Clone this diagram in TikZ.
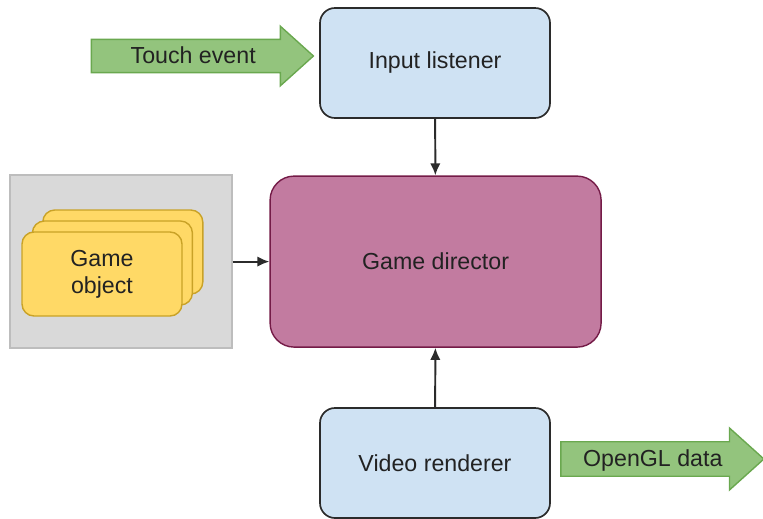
\documentclass[tikz,border=0pt]{standalone}
\usepackage{fontspec}
\setmainfont{Liberation Sans}
\usetikzlibrary{positioning, shapes.arrows, arrows.meta}

\definecolor{boxblue}{HTML}{CFE2F3}
\definecolor{boxdark}{HTML}{2B2B2B}
\definecolor{dirfill}{HTML}{C27BA0}
\definecolor{dirline}{HTML}{741B47}
\definecolor{poolfill}{HTML}{D9D9D9}
\definecolor{poolline}{HTML}{BDBDBD}
\definecolor{objfill}{HTML}{FFD966}
\definecolor{objline}{HTML}{C9A227}
\definecolor{flowfill}{HTML}{93C47D}
\definecolor{flowline}{HTML}{6AA84F}
\definecolor{txt}{HTML}{222222}

\tikzset{
  module/.style={rectangle, rounded corners=0.375cm, draw=boxdark, line width=1.2pt,
    fill=boxblue, minimum width=5.75cm, minimum height=2.75cm},
  gameobj/.style={rectangle, rounded corners=0.3cm, draw=objline, line width=1pt,
    fill=objfill, minimum width=4cm, minimum height=2.1cm, align=center},
  flow/.style={single arrow, draw=flowline, line width=1pt, fill=flowfill,
    single arrow head extend=0.33cm, single arrow tip angle=84,
    text height=12pt, text depth=1pt, inner ysep=4.8pt, inner xsep=0pt},
  link/.style={-{Latex[length=0.3cm, width=0.26cm]}, line width=1.4pt, color=boxdark}
}

\begin{document}
\begin{tikzpicture}[font=\fontsize{16.5}{19}\selectfont, text=txt]
          \useasboundingbox (0,0) rectangle (19.075,12.95);
          \node (input) [module] at (10.875, 11.375) {Input listener};
          \node (video) [module] at (10.875, 1.375) {Video renderer};
          \node (director) [rectangle, rounded corners=0.6cm, draw=dirline, line width=1pt,
            fill=dirfill, minimum width=8.275cm, minimum height=4.275cm]
            at (10.89, 6.41) {Game director};
          \node (pool) [rectangle, draw=poolline, line width=1pt, fill=poolfill,
            minimum width=5.55cm, minimum height=4.325cm] at (3.025, 6.41) {};
          \begin{scope}[every node/.style={gameobj}]
            \node (obj3) at (3.07, 6.65) {};
            \node (obj2) at (2.81, 6.375) {};
            \node (obj1) at (2.55, 6.1) {Game\\object};
          \end{scope}
          \node (touch) [flow, minimum height=5.55cm, minimum width=1.45cm]
            at (4.83, 11.55) {Touch event};
          \node (opengl) [flow, minimum height=5.075cm, minimum width=1.55cm]
            at (16.32, 1.475) {OpenGL data};
          \draw[link] (input) -- (director);
          \draw[link] (video) -- (director);
          \draw[link] (pool) -- (director);
\end{tikzpicture}
\end{document}
